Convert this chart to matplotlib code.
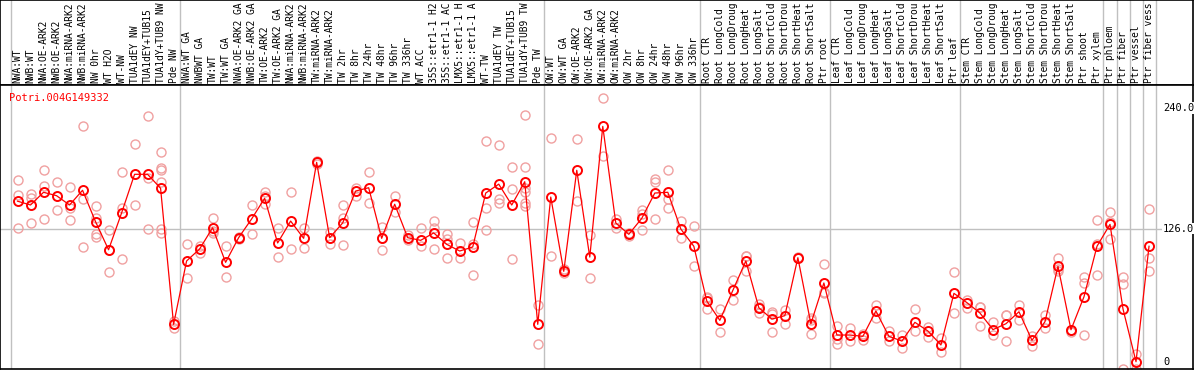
import matplotlib.pyplot as plt


OUTPUT_PATH = "out.png"
GENE_NAME = "Potri.004G149332"

# labels as they show in the header band (long names are cut short there)
SAMPLE_LABELS = [
    "NWA:WT", "NWB:WT", "NWA:OE-ARK2", "NWB:OE-ARK2", "NWA:miRNA-ARK2",
    "NWB:miRNA-ARK2", "NW 0hr", "WT H2O", "WT-NW", "TUA1dEY NW",
    "TUA1dEY+TUB15", "TUA1dY+TUB9 NW", "Pde NW",
    "NWA:WT GA", "NWBWT GA", "TW:WT", "TW:WT GA", "NWA:OE-ARK2 GA",
    "NWB:OE-ARK2 GA", "TW:OE-ARK2", "TW:OE-ARK2 GA", "NWA:miRNA-ARK2",
    "NWB:miRNA-ARK2", "TW:miRNA-ARK2", "TW:miRNA-ARK2", "TW 2hr", "TW 8hr",
    "TW 24hr", "TW 48hr", "TW 96hr", "TW 336hr", "WT ACC", "35S::etr1-1 H2",
    "35S::etr1-1 AC", "LMX5::etr1-1 H", "LMX5::etr1-1 A", "WT-TW",
    "TUA1dEY TW", "TUA1dEY+TUB15", "TUA1dY+TUB9 TW", "Pde TW",
    "OW:WT", "OW:WT GA", "OW:OE-ARK2", "OW:OE-ARK2 GA", "OW:miRNA-ARK2",
    "OW:miRNA-ARK2", "OW 2hr", "OW 8hr", "OW 24hr", "OW 48hr", "OW 96hr",
    "OW 336hr",
    "Root CTR", "Root LongCold", "Root LongDroug", "Root LongHeat",
    "Root LongSalt", "Root ShortCold", "Root ShortDrou", "Root ShortHeat",
    "Root ShortSalt", "Ptr root",
    "Leaf CTR", "Leaf LongCold", "Leaf LongDroug", "Leaf LongHeat",
    "Leaf LongSalt", "Leaf ShortCold", "Leaf ShortDrou", "Leaf ShortHeat",
    "Leaf ShortSalt", "Ptr leaf",
    "Stem CTR", "Stem LongCold", "Stem LongDroug", "Stem LongHeat",
    "Stem LongSalt", "Stem ShortCold", "Stem ShortDrou", "Stem ShortHeat",
    "Stem ShortSalt", "Ptr shoot", "Ptr xylem",
    "Ptr phloem",
    "Ptr fiber",
    "Ptr vessel",
    "Ptr fiber vess",
]

# number of samples in each block between the grey separators
GROUP_SIZES = [13, 28, 12, 10, 10, 11, 1, 1, 1, 1]

MEAN_VALUES = [
    152.0, 148.4, 160.4, 157.2, 148.4, 162.3, 132.6, 106.1, 140.8, 177.4,
    177.4, 164.2, 35.6,
    95.5, 106.8, 126.9, 94.2, 117.5, 135.2, 154.7, 112.5, 133.2, 116.9,
    188.7, 117.5, 131.4, 161.6, 164.7, 116.9, 149.1, 117.5, 115.0, 122.0,
    111.2, 104.9, 108.7, 159.7, 168.1, 148.4, 170.4, 35.6,
    155.9, 85.7, 181.2, 99.2, 222.7, 131.4, 120.7, 135.8, 159.7, 160.4,
    125.7, 109.4,
    57.6, 39.4, 67.7, 95.5, 51.3, 40.6, 43.8, 98.6, 36.2, 74.7,
    25.5, 25.5, 24.3, 48.2, 24.3, 19.8, 37.5, 29.3, 16.1, 64.9,
    56.1, 46.3, 30.6, 36.2, 47.5, 20.5, 38.1, 90.4, 30.5, 61.7, 109.4,
    130.1,
    50.1,
    0.3,
    109.4,
]

REPLICATE_VALUES = [
    [171.7, 157.8, 126.3], [158.5, 155.3, 131.4], [181.2, 166.1, 135.2],
    [169.8, 143.4], [165.4, 145.8, 134.1], [222.8, 154.0, 108.7],
    [147.1, 136.4, 121.3, 118.1], [124.5, 106.0, 84.8], [179.3, 145.8, 97.8],
    [205.8, 148.4], [232.2, 174.2, 125.7],
    [198.2, 183.6, 181.2, 170.4, 125.7, 122.0], [38.8, 32.4],
    [111.2, 79.8], [109.4, 102.6], [135.8, 123.8, 122.0], [109.4, 80.0],
    [118.1, 116.2], [148.4, 120.7], [160.4, 157.2, 149.1], [126.3, 99.2],
    [160.4, 106.8], [126.3, 107.5], [190.0, 187.4], [123.2, 111.2],
    [148.4, 135.8, 110.6], [164.7, 157.2], [179.3, 150.3],
    [128.0, 117.0, 106.0], [156.6, 141.4], [119.7, 115.0], [126.3, 109.4],
    [133.2, 126.9, 106.8], [121.3, 116.2, 98.0], [112.5, 98.0],
    [132.0, 111.8, 82.0], [208.9, 145.3, 124.5], [205.1, 154.0, 150.3],
    [184.3, 163.3, 97.8], [233.5, 184.3, 164.7, 160.9, 150.3, 147.1],
    [53.9, 17.0],
    [211.4, 100.3], [88.0, 84.0], [210.5, 152.3], [119.7, 79.8],
    [249.2, 195.1], [135.2, 126.9], [122.0, 119.0], [143.4, 140.3, 124.5],
    [172.9, 170.4, 135.2], [181.2, 154.0, 145.3], [133.2, 117.5],
    [128.2, 90.4],
    [61.9, 60.8, 50.1], [50.1, 28.7], [77.2, 58.6], [100.5, 100.0, 86.0],
    [54.5, 52.0, 46.3], [47.5, 45.0, 28.7], [48.8, 35.6], [99.0, 98.0],
    [41.3, 40.0, 26.2], [92.6, 66.2, 65.0],
    [34.0, 21.4, 17.0], [32.4, 19.8], [26.2, 20.5], [53.9, 41.9],
    [28.9, 19.8], [25.5, 13.5], [50.1, 28.9], [33.4, 23.6], [22.7, 9.1],
    [84.8, 46.3],
    [58.9, 51.3], [52.0, 52.0, 34.0], [37.8, 25.5], [44.4, 44.0, 19.8],
    [53.9, 39.4], [24.9, 14.8], [44.4, 31.8], [98.0, 87.5, 86.0],
    [30.6, 28.7], [80.7, 75.0, 25.5], [134.0, 111.8, 82.2],
    [141.4, 132.6, 116.2],
    [80.7, 73.7, -6.6],
    [7.3, -6.6],
    [144.6, 98.0, 86.0],
]

Y_TICKS = [0, 126, 240]
Y_TICK_LABELS = ["0", "126.0", "240.0"]

MEAN_COLOR = "#ff0000"
REPLICATE_COLOR = "#f0a0a0"
SEPARATOR_COLOR = "#c0c0c0"
FONT_FAMILY = "DejaVu Sans Mono"


def get_separator_positions():
    positions = [-0.5]
    total = 0
    for size in GROUP_SIZES:
        total += size
        positions.append(total - 0.5)
    return positions


def style_frame(axis):
    axis.set_xlim(-1.31, 90.38)
    axis.set_xticks([])
    axis.set_yticks([])
    for spine in axis.spines.values():
        spine.set_color("black")
        spine.set_linewidth(1.2)


def draw_label_panel(figure, separators):
    axis = figure.add_axes([0.0004, 1 - 85 / 370, 1192.5 / 1194, 85 / 370])
    style_frame(axis)
    axis.set_ylim(0, 85)

    for position in separators:
        axis.axvline(position, color=SEPARATOR_COLOR, linewidth=1.0, zorder=0)

    for index, label in enumerate(SAMPLE_LABELS):
        axis.text(
            index,
            2,
            label,
            rotation=90,
            ha="center",
            va="bottom",
            fontsize=6.9,
            family=FONT_FAMILY,
            color="black",
        )
    return axis


def draw_expression_panel(figure, separators):
    axis = figure.add_axes([0.0004, 1 / 370, 1192.5 / 1194, 284 / 370])
    style_frame(axis)
    axis.set_ylim(-6.6, 261.8)

    for position in separators:
        axis.axvline(position, color=SEPARATOR_COLOR, linewidth=1.0, zorder=0)
    axis.axhline(126, color=SEPARATOR_COLOR, linewidth=1.0, zorder=0)

    for index, replicates in enumerate(REPLICATE_VALUES):
        axis.plot(
            [index] * len(replicates),
            replicates,
            linestyle="none",
            marker="o",
            markersize=6.5,
            markerfacecolor="none",
            markeredgecolor=REPLICATE_COLOR,
            markeredgewidth=1.0,
            zorder=2,
        )

    axis.plot(
        range(len(MEAN_VALUES)),
        MEAN_VALUES,
        color=MEAN_COLOR,
        linewidth=0.9,
        marker="o",
        markersize=6.5,
        markerfacecolor="none",
        markeredgecolor=MEAN_COLOR,
        markeredgewidth=1.4,
        zorder=3,
    )

    for tick, tick_label in zip(Y_TICKS, Y_TICK_LABELS):
        axis.text(
            0.975,
            tick,
            tick_label,
            transform=axis.get_yaxis_transform(),
            ha="left",
            va="center",
            fontsize=7.5,
            family=FONT_FAMILY,
            color="black",
            zorder=4,
            bbox=dict(facecolor="white", edgecolor="none", pad=0.5),
        )

    axis.text(
        0.0075,
        0.955,
        GENE_NAME,
        transform=axis.transAxes,
        ha="left",
        va="center",
        fontsize=7.5,
        family=FONT_FAMILY,
        color=MEAN_COLOR,
    )
    return axis


def main():
    figure = plt.figure(figsize=(11.94, 3.70), dpi=100)
    separators = get_separator_positions()
    draw_label_panel(figure, separators)
    draw_expression_panel(figure, separators)
    figure.savefig(OUTPUT_PATH, dpi=100)
    plt.close(figure)


if __name__ == "__main__":
    main()
